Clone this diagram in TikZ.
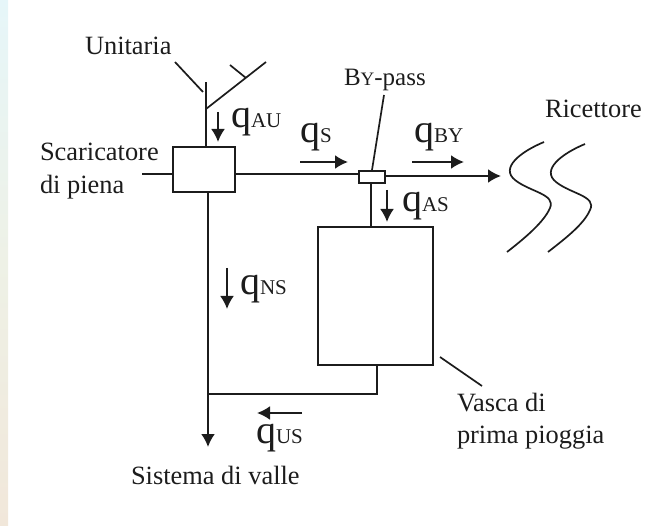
\documentclass[tikz,border=0pt]{standalone}
\usepackage{fontspec}
\setmainfont{Liberation Serif}
\usetikzlibrary{arrows.meta}
\definecolor{ink}{HTML}{1C1C1C}
\definecolor{stripa}{HTML}{E6F6F9}
\definecolor{stripb}{HTML}{EEF1E6}
\definecolor{stripc}{HTML}{F1E7DA}
\tikzset{
  x=1pt,y=-1pt,
  lab/.style={anchor=base west,inner sep=0pt,outer sep=0pt,text=ink,font=\fontsize{26.4}{26.4}\selectfont},
  qty/.style={anchor=base west,inner sep=0pt,outer sep=0pt,text=ink,font=\fontsize{40}{40}\selectfont},
  boxa/.style={draw=ink,line width=2pt,fill=white,minimum width=#1,inner sep=0pt,outer sep=0pt},
  pipe/.style={draw=ink,line width=2pt},
  thinl/.style={draw=ink,line width=1.7pt},
  flow/.style={draw=ink,line width=2pt,-{Latex[length=13pt,width=14pt]}},
}
\newcommand{\qlab}[1]{q{\fontsize{21}{21}\selectfont #1}}
\begin{document}
\begin{tikzpicture}
\useasboundingbox (0,0) rectangle (653,526);
\shade[top color=stripa,bottom color=stripc,middle color=stripb] (0,0) rectangle (8,526);
% boxes
\node[boxa=62pt,minimum height=45pt] (sc) at (204,169.5) {};
\node[boxa=26pt,minimum height=12pt] (bp) at (372,177) {};
\node[boxa=115pt,minimum height=138pt] (tank) at (375.5,296) {};
% free ends
\coordinate (inl) at (142,174);
\coordinate (top) at (206,82);
\coordinate (y1) at (175,62);
\coordinate (y1e) at (203,92);
\coordinate (y2s) at (206,109);
\coordinate (y2) at (266,62);
\coordinate (y3) at (230,65);
\coordinate (y3e) at (246,78);
\coordinate (rc) at (501,176);
\coordinate (sv) at (208,447);
\coordinate (j) at (208,394);
\coordinate (tb) at (377,394);
% connectors
\draw[thinl] (inl) -- (inl -| sc.west);
\draw[pipe] (sc.east |- inl) -- (bp.west |- inl);
\draw[flow] (bp.east |- rc) -- (rc);
\draw[flow] (208,192) -- (sv);
\draw[pipe] (sc.north -| top) -- (top);
\draw[thinl] (y1) -- (y1e);
\draw[thinl] (y2s) -- (y2);
\draw[thinl] (y3) -- (y3e);
\draw[pipe] (bp.south -| 371,0) -- (tank.north -| 371,0);
\draw[pipe] (tank.south -| tb) -- (tb) -- (j);
% leader lines
\coordinate (bpl) at (384,95);
\draw[thinl] (bpl) -- (372,170);
\coordinate (vl1) at (440,357);
\coordinate (vl2) at (482,386);
\draw[thinl] (vl1) -- (vl2);
% receiver
\draw[thinl] (544,142) .. controls (520,152) and (500,168) .. (515,180) .. controls (530,192) and (556,194) .. (550,208) .. controls (544,222) and (525,238) .. (507,252);
\draw[thinl] (585,144) .. controls (561,154) and (541,170) .. (556,182) .. controls (571,194) and (597,196) .. (590,210) .. controls (584,224) and (566,238) .. (548,252);
% flow arrows
\draw[flow] (218,112) -- (218,142);
\draw[flow] (300,162) -- (348,162);
\draw[flow] (412,162) -- (464,162);
\draw[flow] (387,190) -- (387,222);
\draw[flow] (227,268) -- (227,309);
\draw[flow] (302,413) -- (257,413);
% labels
\node[lab] (t1) at (85,55) {Unitaria};
\node[lab] (t2) at (40,161) {Scaricatore};
\node[lab] (t3) at (40,194) {di piena};
\node[lab,font=\fontsize{25}{25}\selectfont] (t4) at (344,86) {B{\fontsize{19}{19}\selectfont Y}-pass};
\node[lab] (t5) at (545,118) {Ricettore};
\node[lab] (t6) at (457,411) {Vasca di};
\node[lab] (t7) at (457,443) {prima pioggia};
\node[lab] (t8) at (131,484) {Sistema di valle};
\node[qty] (q1) at (231,128) {\qlab{AU}};
\node[qty] (q2) at (300,143) {\qlab{S}};
\node[qty] (q3) at (414,143) {\qlab{BY}};
\node[qty] (q4) at (402,212) {\qlab{AS}};
\node[qty] (q5) at (240,295) {\qlab{NS}};
\node[qty] (q6) at (256,443) {\qlab{US}};
\end{tikzpicture}
\end{document}
